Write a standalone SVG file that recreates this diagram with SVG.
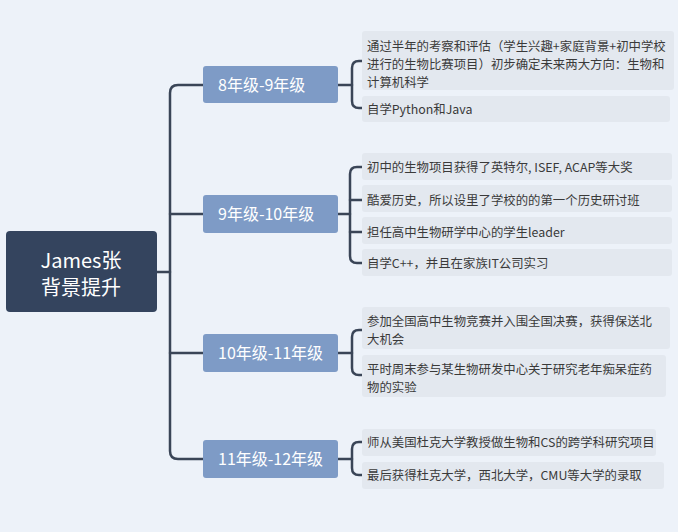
<svg xmlns="http://www.w3.org/2000/svg" width="678" height="532" viewBox="0 0 678 532">
<style>
.bg{fill:#edf2f9}
.root{fill:#34445e}
.grade{fill:#7e9bc6}
.leaf{fill:#e3e8ef}
.rt{font-family:"Noto Sans CJK SC","Noto Sans",sans-serif;font-size:20px;fill:#ffffff;text-anchor:middle}
.gt{font-family:"Noto Sans CJK SC","Noto Sans",sans-serif;font-size:16px;fill:#ffffff}
.lt{font-family:"Noto Sans CJK SC","Noto Sans",sans-serif;font-size:12.4px;fill:#3a3a3a}
.ln{fill:none;stroke:#3a4557;stroke-width:2.5;stroke-linecap:round;stroke-linejoin:round}
</style>
<rect class="bg" x="0" y="0" width="678" height="532"/>
<g id="connectors">
<path class="ln" d="M157,272 H170"/>
<path class="ln" d="M203,85 H178 Q170,85 170,93 V451 Q170,459 178,459 H203"/>
<path class="ln" d="M170,214 H203"/>
<path class="ln" d="M170,353 H203"/>
<path class="ln" d="M338,85 H352"/>
<path class="ln" d="M362,61 H359 Q352,61 352,68 V101 Q352,108 359,108 H362"/>
<path class="ln" d="M338,214 H350"/>
<path class="ln" d="M362,167 H357 Q350,167 350,174 V256 Q350,263 357,263 H362"/>
<path class="ln" d="M350,200 H362"/>
<path class="ln" d="M350,232 H362"/>
<path class="ln" d="M338,353 H352"/>
<path class="ln" d="M362,330 H359 Q352,330 352,337 V368 Q352,375 359,375 H362"/>
<path class="ln" d="M338,459 H352"/>
<path class="ln" d="M362,442 H359 Q352,442 352,449 V468 Q352,475 359,475 H362"/>
</g>
<g id="root">
<rect class="root" x="6" y="231" width="151" height="81" rx="4"/>
<text class="rt" x="81" y="268">James张</text>
<text class="rt" x="81" y="295">背景提升</text>
</g>
<g id="g8-9">
<rect class="grade" x="203" y="66" width="135" height="37" rx="3"/>
<text class="gt" x="218" y="90.5">8年级-9年级</text>
</g>
<g id="g9-10">
<rect class="grade" x="203" y="195" width="135" height="38" rx="3"/>
<text class="gt" x="218" y="219.5">9年级-10年级</text>
</g>
<g id="g10-11">
<rect class="grade" x="203" y="334" width="135" height="38" rx="3"/>
<text class="gt" x="218" y="358.5">10年级-11年级</text>
</g>
<g id="g11-12">
<rect class="grade" x="203" y="440" width="135" height="38" rx="3"/>
<text class="gt" x="218" y="464.5">11年级-12年级</text>
</g>
<g id="l1a">
<rect class="leaf" x="362" y="31" width="312" height="59" rx="3"/>
<text class="lt" x="367" y="51">通过半年的考察和评估（学生兴趣+家庭背景+初中学校</text>
<text class="lt" x="367" y="69">进行的生物比赛项目）初步确定未来两大方向：生物和</text>
<text class="lt" x="367" y="87">计算机科学</text>
</g>
<g id="l1b">
<rect class="leaf" x="362" y="96" width="308" height="26" rx="3"/>
<text class="lt" x="367" y="113.5">自学Python和Java</text>
</g>
<g id="l2a">
<rect class="leaf" x="362" y="153" width="310" height="27" rx="3"/>
<text class="lt" x="367" y="171.5">初中的生物项目获得了英特尔, ISEF, ACAP等大奖</text>
</g>
<g id="l2b">
<rect class="leaf" x="362" y="185" width="310" height="27" rx="3"/>
<text class="lt" x="367" y="204.5">酷爱历史，所以设里了学校的的第一个历史研讨班</text>
</g>
<g id="l2c">
<rect class="leaf" x="362" y="217" width="310" height="27" rx="3"/>
<text class="lt" x="367" y="236.5">担任高中生物研学中心的学生leader</text>
</g>
<g id="l2d">
<rect class="leaf" x="362" y="249" width="310" height="27" rx="3"/>
<text class="lt" x="367" y="267.5">自学C++，并且在家族IT公司实习</text>
</g>
<g id="l3a">
<rect class="leaf" x="362" y="307" width="308" height="42" rx="3"/>
<text class="lt" x="367" y="326">参加全国高中生物竞赛并入围全国决赛，获得保送北</text>
<text class="lt" x="367" y="343.5">大机会</text>
</g>
<g id="l3b">
<rect class="leaf" x="362" y="355" width="304" height="42" rx="3"/>
<text class="lt" x="367" y="374">平时周末参与某生物研发中心关于研究老年痴呆症药</text>
<text class="lt" x="367" y="391.5">物的实验</text>
</g>
<g id="l4a">
<rect class="leaf" x="362" y="429" width="294" height="27" rx="3"/>
<text class="lt" x="367" y="446.5">师从美国杜克大学教授做生物和CS的跨学科研究项目</text>
</g>
<g id="l4b">
<rect class="leaf" x="362" y="462" width="302" height="27" rx="3"/>
<text class="lt" x="367" y="479.5">最后获得杜克大学，西北大学，CMU等大学的录取</text>
</g>
</svg>
